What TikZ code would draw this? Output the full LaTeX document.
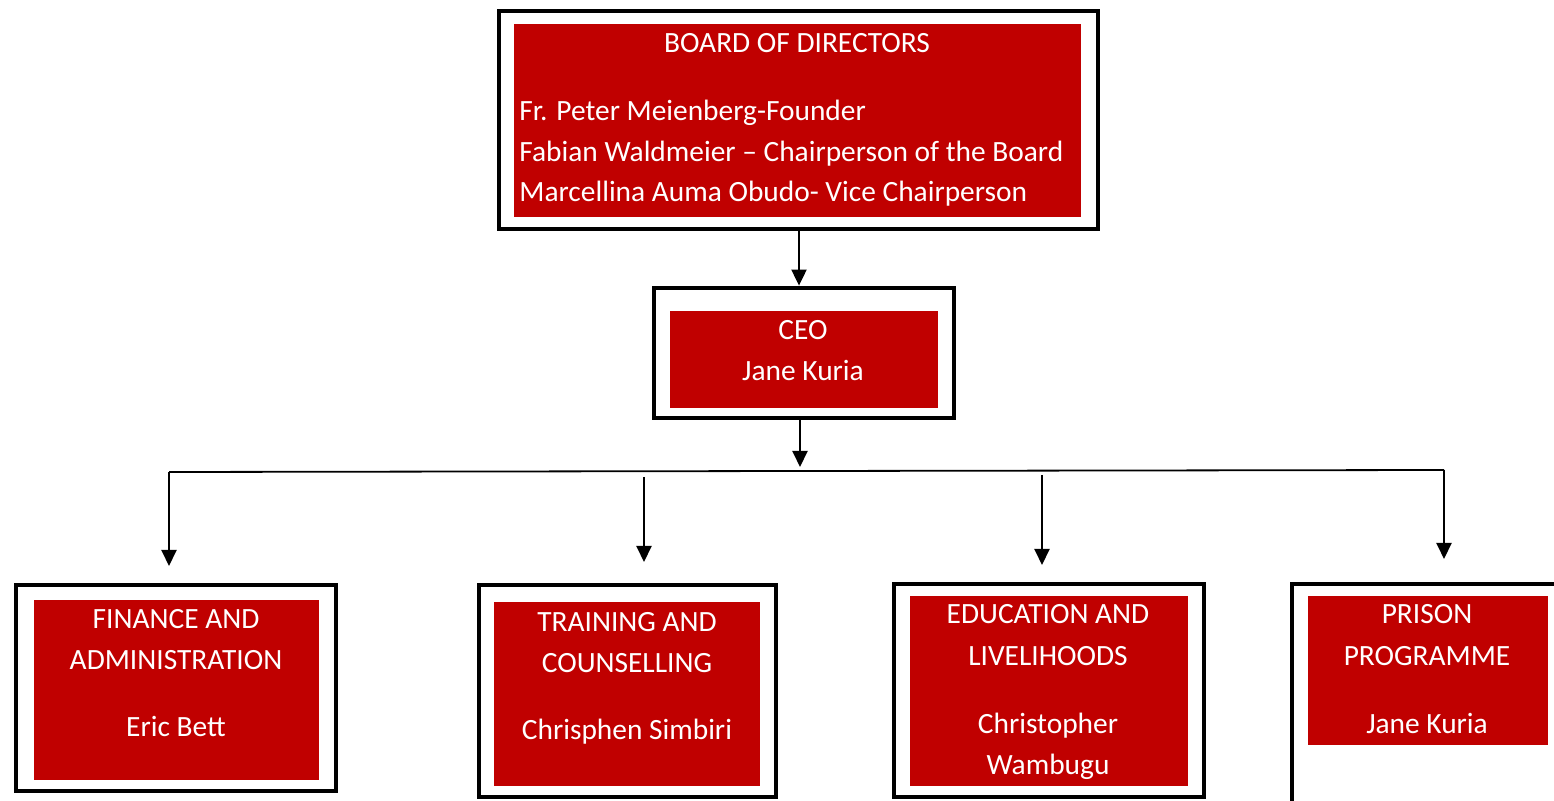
\documentclass[tikz,border=0pt]{standalone}
\usepackage{fontspec}
\setmainfont{Carlito}
\usetikzlibrary{arrows.meta}
\definecolor{boxred}{RGB}{192,0,0}
\tikzset{
  outerbox/.style={draw=black, line width=2.4pt, fill=white, inner sep=0pt},
  redbox/.style={fill=boxred, draw=none, inner sep=0pt},
  txt/.style={text=white, inner sep=0pt, anchor=base, font=\fontsize{14.7}{17}\selectfont},
  txtl/.style={txt, anchor=base west},
  arr/.style={line width=1pt, -{Triangle[length=8pt,width=7.5pt]}},
  hline/.style={line width=0.9pt}
}
\begin{document}
\begin{tikzpicture}[x=0.5pt,y=-0.5pt]
\useasboundingbox (0,0) rectangle (1554,801);
\clip (0,0) rectangle (1554,801);
% Board
\node[outerbox, minimum width=299.5pt, minimum height=109pt] (board) at (798.5,120) {};
\node[redbox, minimum width=283.5pt, minimum height=96.5pt] (boardin) at (797.5,120.5) {};
\node[txt] (bh) at (797,53) {BOARD OF DIRECTORS};
\node[txtl] (b1) at (519,121) {Fr. Peter Meienberg-Founder};
\node[txtl] (b2) at (519,162) {Fabian Waldmeier – Chairperson of the Board};
\node[txtl] (b3) at (519,202) {Marcellina Auma Obudo- Vice Chairperson};
% CEO
\node[outerbox, minimum width=150pt, minimum height=65pt] (ceo) at (804,353) {};
\node[redbox, minimum width=134pt, minimum height=48.5pt] (ceoin) at (804,359.5) {};
\node[txt] (c1) at (803,340) {CEO};
\node[txt] (c2) at (803,381) {Jane Kuria};
% Finance
\node[outerbox, minimum width=160pt, minimum height=103pt] (fin) at (176,688) {};
\node[redbox, minimum width=142.5pt, minimum height=90pt] (finin) at (176.5,690) {};
\node[txt] (f1) at (176,629) {FINANCE AND};
\node[txt] (f2) at (176,670) {ADMINISTRATION};
\node[txt] (f3) at (176,737) {Eric Bett};
% Training
\node[outerbox, minimum width=148.5pt, minimum height=106pt] (tra) at (627.5,691) {};
\node[redbox, minimum width=133pt, minimum height=92pt] (train) at (627,694) {};
\node[txt] (t1) at (627,632) {TRAINING AND};
\node[txt] (t2) at (627,673) {COUNSELLING};
\node[txt] (t3) at (627,740) {Chrisphen Simbiri};
% Education
\node[outerbox, minimum width=155pt, minimum height=106.5pt] (edu) at (1049,690.5) {};
\node[redbox, minimum width=139pt, minimum height=95pt] (eduin) at (1049,691) {};
\node[txt] (e1) at (1048,624) {EDUCATION AND};
\node[txt] (e2) at (1048,666) {LIVELIHOODS};
\node[txt] (e3) at (1048,734) {Christopher};
\node[txt] (e4) at (1048,775) {Wambugu};
% Prison
\node[outerbox, minimum width=154pt, minimum height=133pt] (pri) at (1446,717) {};
\node[redbox, minimum width=120pt, minimum height=74.5pt] (priin) at (1428,670.5) {};
\node[txt] (p1) at (1427,624) {PRISON};
\node[txt] (p2) at (1427,666) {PROGRAMME};
\node[txt] (p3) at (1427,734) {Jane Kuria};
% Connectors
\coordinate (hub) at (800,467);
\coordinate (hl) at (169,472);
\coordinate (hr) at (1444,470);
\coordinate (finTip) at (169,566);
\coordinate (traTop) at (644,477);
\coordinate (traTip) at (644,562);
\coordinate (eduTop) at (1042,475);
\coordinate (eduTip) at (1042,565);
\coordinate (priTip) at (1444,559);
\draw[arr] (board.south -| 799,0) -- (ceo.north -| 799,0);
\draw[arr] (ceo.south -| 800,0) -- (hub);
\draw[hline] (hl) -- (hr);
\draw[arr] (hl) -- (finTip);
\draw[arr] (traTop) -- (traTip);
\draw[arr] (eduTop) -- (eduTip);
\draw[arr] (hr) -- (priTip);
\end{tikzpicture}
\end{document}
